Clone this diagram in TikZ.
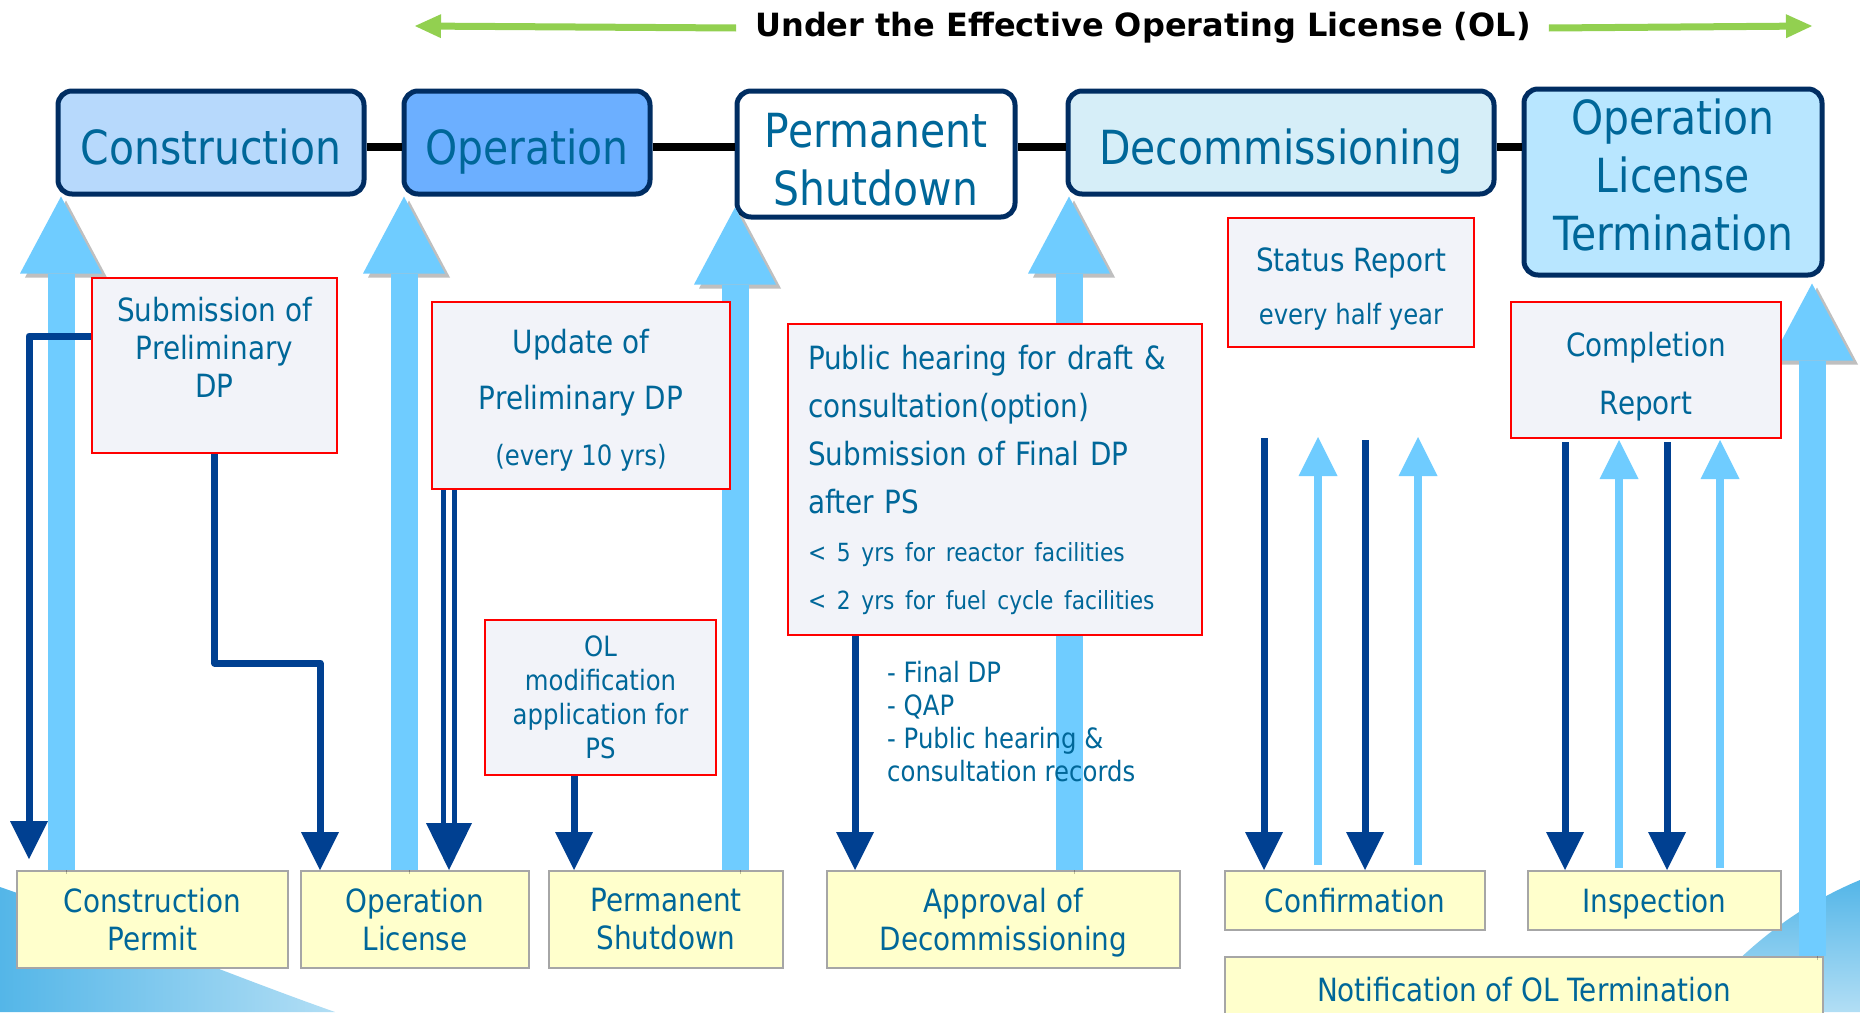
\documentclass[tikz,border=0pt]{standalone}
\usepackage{fontspec}
\setmainfont{DejaVu Sans}[FakeStretch=0.87]
\newfontfamily\titlefont{DejaVu Sans}
\usetikzlibrary{arrows.meta}

\definecolor{txtblue}{RGB}{0,103,153}
\definecolor{navy}{RGB}{0,45,98}
\definecolor{dkblue}{RGB}{0,64,145}
\definecolor{ltblue}{RGB}{111,204,255}
\definecolor{olgreen}{RGB}{146,208,80}
\definecolor{paleyellow}{RGB}{255,255,204}
\definecolor{paleblue}{RGB}{242,243,249}
\definecolor{swoosh}{RGB}{84,182,232}

\tikzset{
  phase/.style={draw=navy, line width=5pt, rounded corners=14pt, text=txtblue, align=center, font=\fontsize{47}{58}\selectfont},
  permit/.style={draw=black!35, line width=2pt, fill=paleyellow, text=txtblue, align=center, font=\fontsize{32}{38}\selectfont},
  report/.style={draw=red, line width=2pt, fill=paleblue, text=txtblue, align=center, font=\fontsize{32}{38}\selectfont},
  joint/.style={draw=black, line width=8pt},
  fatup/.style={draw=ltblue, line width=27pt, -{Triangle[length=77pt,width=82pt,line width=0pt]},
    preaction={draw=black, opacity=.25, transform canvas={shift={(5pt,-4pt)}}}},
  thinup/.style={draw=ltblue, line width=8pt, -{Triangle[length=39pt,width=39pt,line width=0pt]}},
  dkarrow/.style={draw=dkblue, line width=7pt, line join=round, -{Triangle[length=38pt,width=38pt,line width=0pt]}},
  dkline/.style={draw=dkblue, line width=5pt},
  grarrow/.style={draw=olgreen, line width=7pt, -{Triangle[length=26pt,width=24pt,line width=0pt]}}
}

\begin{document}
\begin{tikzpicture}[x=1pt, y=-1pt]
\fill[white] (0,0) rectangle (1860,1012);
\useasboundingbox (0,0) rectangle (1860,1012);

% corner swooshes
\shade[left color=swoosh, right color=swoosh!45] (0,887) .. controls (110,925) and (230,975) .. (335,1012) -- (0,1012) -- cycle;
\shade[top color=swoosh, bottom color=swoosh!45] (1860,880) .. controls (1800,905) and (1745,945) .. (1690,1012) -- (1860,1012) -- cycle;

% title
\node[font=\titlefont\bfseries\fontsize{32}{38}\selectfont, inner sep=0pt] (title) at (1143,28) {Under the Effective Operating License (OL)};
\coordinate (olL) at (415,26);
\coordinate (olR) at (1812,26);
\draw[grarrow] ([xshift=-19pt]title.west) -- (olL);
\draw[grarrow] ([xshift=18pt]title.east) -- (olR);

% phases
\node[phase, fill={rgb,255:red,183;green,217;blue,252}, minimum width=306pt, minimum height=103pt, text height=44pt, text depth=0pt] (cons) at (211,142.5) {Construction};
\node[phase, fill={rgb,255:red,108;green,175;blue,255}, minimum width=246pt, minimum height=103pt, text height=44pt, text depth=0pt] (oper) at (527,142.5) {Operation};
\node[phase, fill=white, minimum width=278pt, minimum height=126pt, text height=103pt, text depth=0pt] (ps) at (876,154) {Permanent\\Shutdown};
\node[phase, fill={rgb,255:red,214;green,238;blue,248}, minimum width=426pt, minimum height=103pt, text height=44pt, text depth=0pt] (dec) at (1281,142.5) {Decommissioning};
\node[phase, fill={rgb,255:red,184;green,230;blue,255}, minimum width=298pt, minimum height=186pt, text height=137pt, text depth=0pt] (olt) at (1673,182) {Operation\\License\\Termination};

\coordinate (jointy) at (0,146.5);
\foreach \a/\b in {cons/oper, oper/ps, ps/dec, dec/olt}
  \draw[joint] (\a.east |- jointy) -- (\b.west |- jointy);

% licensing steps
\node[permit, minimum width=271pt, minimum height=97pt] (cp) at (152.5,919.5) {Construction\\Permit};
\node[permit, minimum width=228pt, minimum height=97pt] (ol) at (415,919.5) {Operation\\License};
\node[permit, minimum width=234pt, minimum height=97pt] (psb) at (666,919.5) {Permanent\\Shutdown};
\node[permit, minimum width=353pt, minimum height=97pt, text depth=0pt] (app) at (1003.5,919.5) {Approval of\\Decommissioning};
\node[permit, minimum width=260pt, minimum height=59pt, text depth=0pt] (conf) at (1355,900.5) {Confirmation};
\node[permit, minimum width=253pt, minimum height=59pt, text depth=0pt] (insp) at (1654.5,900.5) {Inspection};
\node[permit, minimum width=598pt, minimum height=66pt] (note) at (1524,990) {Notification of OL Termination};

% big arrows up to the phases
\draw[fatup] ([xshift=45pt]cp.north west) -- ([xshift=45pt]cp.north west |- cons.south);
\draw[fatup] ([xshift=104pt]ol.north west) -- ([xshift=104pt]ol.north west |- oper.south);
\draw[fatup] ([xshift=187pt]psb.north west) -- ([xshift=187pt,yshift=12pt]psb.north west |- ps.south);
\draw[fatup] ([xshift=243pt]app.north west) -- ([xshift=243pt]app.north west |- dec.south);
\draw[fatup] ([xshift=-12pt]note.north east) -- ([xshift=-12pt,yshift=-6pt]note.north east |- olt.south);

% reports
\node[report, minimum width=245pt, minimum height=175pt] (sub) at (214.5,365.5) {};
\node[text=txtblue, align=center, font=\fontsize{32}{38}\selectfont] (subtxt) at ([yshift=-70pt]sub.north) {Submission of\\Preliminary\\DP};
\node[report, minimum width=298pt, minimum height=187pt, font=\fontsize{32}{56}\selectfont, text height=139pt, text depth=0pt] (upd) at (581,395.5)
  {Update of\\Preliminary DP\\{\fontsize{28}{56}\selectfont(every 10 yrs)}};
\node[report, minimum width=231pt, minimum height=155pt, font=\fontsize{28}{34}\selectfont] (olm) at (600.5,697.5)
  {OL\\modification\\application for\\PS};
\node[report, minimum width=414pt, minimum height=311pt, align=left, text width=374pt, inner xsep=20pt, font=\fontsize{32}{48}\selectfont] (pub) at (995,479.5)
  {Public hearing for draft \&\\consultation(option)\\Submission of Final DP\\after PS\\
   {\fontsize{25}{48}\selectfont < 5 yrs for reactor facilities}\\
   {\fontsize{25}{48}\selectfont < 2 yrs for fuel cycle facilities}};
\node[report, minimum width=246pt, minimum height=129pt, font=\fontsize{32}{53}\selectfont, text height=83pt, text depth=0pt] (sta) at (1351,282.5)
  {Status Report\\{\fontsize{28}{53}\selectfont every half year}};
\node[report, minimum width=270pt, minimum height=136pt, font=\fontsize{32}{58}\selectfont, text height=88pt, text depth=0pt] (com) at (1646,370) {Completion\\Report};

\node[anchor=north west, inner sep=0pt, align=left, text=txtblue, font=\fontsize{28}{33}\selectfont] (docs) at (887,661)
  {- Final DP\\- QAP\\- Public hearing \&\\consultation records};

% submissions down to the licensing steps
\draw[dkarrow] ([yshift=-59pt]sub.north west) -| ([xshift=13pt,yshift=11pt]cp.north west);
\draw[dkarrow] (sub.south) -- ++(0,209) -| ([xshift=20pt]ol.north west);
\coordinate (updtip) at ([xshift=18pt]upd.south west |- ol.north);
\draw[dkline, double distance=6pt] ([xshift=18pt]upd.south west) -- ([yshift=44pt]updtip);
\draw[dkarrow, -{Triangle[length=47pt,width=46pt,line width=0pt]}] ([yshift=47pt]updtip) -- (updtip);
\draw[dkarrow] ([xshift=90pt]olm.south west) -- ([xshift=90pt]olm.south west |- psb.north);
\draw[dkarrow] ([xshift=68pt]pub.south west) -- ([xshift=68pt]pub.south west |- app.north);

% confirmation and inspection exchanges
\coordinate (cf1) at (1264,438);
\coordinate (cf2) at (1318,437);
\coordinate (cf3) at (1365,440);
\coordinate (cf4) at (1418,437);
\coordinate (in1) at (1565,442);
\coordinate (in2) at (1619,440);
\coordinate (in3) at (1667,442);
\coordinate (in4) at (1720,440);
\foreach \d/\u in {cf1/cf2, cf3/cf4} {
  \draw[dkarrow] (\d) -- (\d |- conf.north);
  \draw[thinup] ([yshift=5pt]\u |- conf.north) -- (\u);
}
\foreach \d/\u in {in1/in2, in3/in4} {
  \draw[dkarrow] (\d) -- (\d |- insp.north);
  \draw[thinup] ([yshift=2pt]\u |- insp.north) -- (\u);
}
\end{tikzpicture}
\end{document}
